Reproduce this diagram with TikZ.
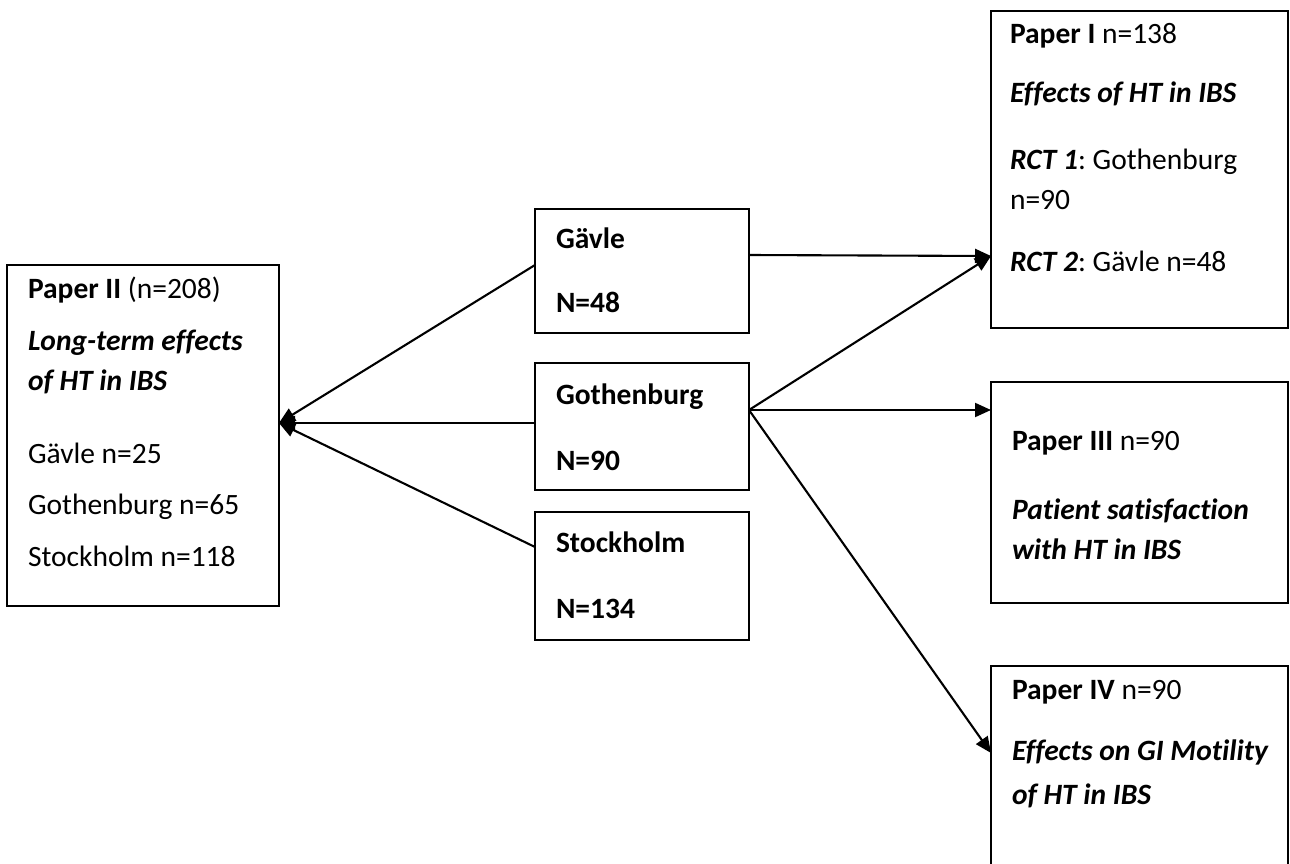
\documentclass[tikz,border=0pt]{standalone}
\usepackage{fontspec}
\setmainfont{Carlito}[Ligatures=NoCommon]
\usetikzlibrary{arrows.meta}
\frenchspacing
\begin{document}
\begin{tikzpicture}[x=1pt,y=-1pt,
  box/.style={draw, line width=2.1pt, inner sep=0pt, outer sep=0pt},
  lbl/.style={anchor=base west, inner sep=0pt, outer sep=0pt, font=\fontsize{29.5}{35}\selectfont},
  arr/.style={line width=2.1pt, -{Triangle[length=16pt,width=14pt]}}]
\clip (0,0) rectangle (1290,864);
\fill[white] (0,0) rectangle (1290,864);
% boxes
\node[box, minimum width=272pt, minimum height=341pt] (p2) at (143,435.5) {};
\node[box, minimum width=214pt, minimum height=124pt] (g) at (642,271) {};
\node[box, minimum width=214pt, minimum height=127pt] (th) at (642,426.5) {};
\node[box, minimum width=214pt, minimum height=128pt] (s) at (642,576) {};
\node[box, minimum width=297pt, minimum height=317pt] (p1) at (1139.5,169.5) {};
\node[box, minimum width=297pt, minimum height=221pt] (p3) at (1139.5,492.5) {};
\node[box, minimum width=297pt, minimum height=234pt] (p4) at (1139.5,783) {};
% Paper II text
\node[lbl] (p2a) at (28,298) {\textbf{Paper II} (n=208)};
\node[lbl] (p2b) at (28,350) {\textbf{\textit{Long-term effects}}};
\node[lbl] (p2c) at (28,390) {\textbf{\textit{of HT in IBS}}};
\node[lbl] (p2d) at (28,463) {Gävle n=25};
\node[lbl] (p2e) at (28,514) {Gothenburg n=65};
\node[lbl] (p2f) at (28,566) {Stockholm n=118};
% middle boxes text
\node[lbl] (ga) at (556,248) {\textbf{Gävle}};
\node[lbl] (gb) at (556,312) {\textbf{N=48}};
\node[lbl] (tha) at (556,404) {\textbf{Gothenburg}};
\node[lbl] (thb) at (556,470) {\textbf{N=90}};
\node[lbl] (sa) at (556,552) {\textbf{Stockholm}};
\node[lbl] (sb) at (556,618) {\textbf{N=134}};
% Paper I text
\node[lbl] (p1a) at (1010,44) {\textbf{Paper I} n=138};
\node[lbl] (p1b) at (1010,103) {\textbf{\textit{Effects of HT in IBS}}};
\node[lbl] (p1c) at (1010,169) {\textbf{\textit{RCT 1}}: Gothenburg};
\node[lbl] (p1d) at (1010,209) {n=90};
\node[lbl] (p1e) at (1010,271) {\textbf{\textit{RCT 2}}: Gävle n=48};
% Paper III text
\node[lbl] (p3a) at (1012,450) {\textbf{Paper III} n=90};
\node[lbl] (p3b) at (1012,519) {\textbf{\textit{Patient satisfaction}}};
\node[lbl] (p3c) at (1012,559) {\textbf{\textit{with HT in IBS}}};
% Paper IV text
\node[lbl] (p4a) at (1012,699) {\textbf{Paper IV} n=90};
\node[lbl] (p4b) at (1012,760) {\textbf{\textit{Effects on GI Motility}}};
\node[lbl] (p4c) at (1012,804) {\textbf{\textit{of HT in IBS}}};
% connectors to Paper II
\draw[arr] (g.west |- 0,265) -- (p2.east |- 0,423);
\draw[arr] (th.west |- 0,423) -- (p2.east |- 0,423);
\draw[arr] (s.west |- 0,547) -- (p2.east |- 0,423);
% connectors to the right
\draw[arr] (g.east |- 0,255) -- (p1.west |- 0,256);
\draw[arr] (th.east |- 0,410) -- (p1.west |- 0,256);
\draw[arr] (th.east |- 0,410) -- (p3.west |- 0,410);
\draw[arr] (th.east |- 0,410) -- (p4.west |- 0,753);
\end{tikzpicture}
\end{document}
